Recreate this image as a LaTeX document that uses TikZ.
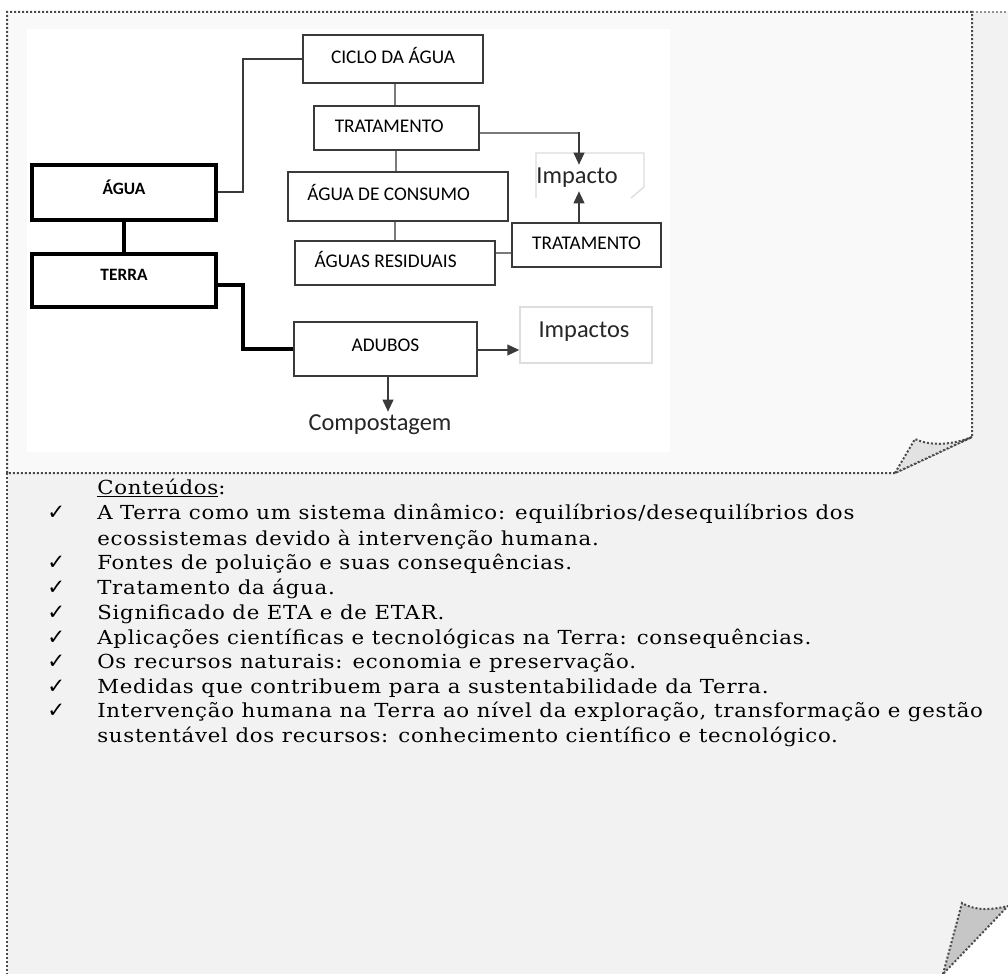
\documentclass[tikz,border=0pt]{standalone}
\usepackage{fontspec}
\setmainfont{DejaVu Serif}
\newfontfamily\boxfont{Carlito}
\newfontfamily\listfont{DejaVu Serif}[FakeStretch=1.1,LetterSpace=4]
\newfontfamily\symfont{DejaVu Sans}
\usetikzlibrary{arrows.meta,calc}
\definecolor{pagegray}{HTML}{F2F2F2}
\definecolor{toppage}{HTML}{F9F9F9}
\definecolor{dotgray}{HTML}{4A4A4A}
\definecolor{boxgray}{HTML}{3A3A3A}
\definecolor{linkgray}{HTML}{7A7A7A}
\definecolor{faint}{HTML}{DDDDDD}
\definecolor{flapgray}{HTML}{E2E2E2}
\definecolor{flapdark}{HTML}{C6C6C6}
\begin{document}
\begin{tikzpicture}[x=0.75pt,y=-0.75pt,
  dotline/.style={draw=dotgray,line width=1.5pt,dash pattern=on 1.5pt off 1.5pt},
  lightdot/.style={draw=dotgray!60,line width=1.5pt,dash pattern=on 1.5pt off 1.5pt},
  box/.style={draw=boxgray,line width=1.6pt,fill=white,inner sep=0pt,
    text height=9.4pt,text depth=2pt,
    font=\boxfont\fontsize{14.5}{16}\selectfont},
  mainbox/.style={box,draw=black,line width=2.6pt,text height=8.4pt,text depth=6.8pt,
    font=\boxfont\bfseries\fontsize{13}{15}\selectfont},
  link/.style={draw=linkgray,line width=1.6pt},
  darklink/.style={draw=boxgray,line width=1.4pt},
  thicklink/.style={draw=black,line width=2.4pt},
  arrowlink/.style={draw=boxgray,line width=1.4pt,-{Triangle[length=9pt,width=8pt]}},
  bigtext/.style={inner sep=0pt,font=\boxfont\fontsize{18.3}{21}\selectfont,text=black!85},
  item/.style={anchor=base west,inner sep=0pt,font=\listfont\fontsize{14.5}{17}\selectfont},
  tick/.style={anchor=base west,inner sep=0pt,font=\symfont\fontsize{16}{18}\selectfont}]
\useasboundingbox (0,0) rectangle (1008,974);
\fill[white] (0,0) rectangle (1008,974);

% lower page sheet with its folded corner
\fill[pagegray] (7,12) -- (1008,12) -- (1008,906) -- (943,974) -- (7,974) -- cycle;
\path[lightdot] (972,12) -- (1008,12);
\path[dotline] (7,473) -- (7,974);
\filldraw[fill=flapdark,dotline] (943,974) -- (962,903) .. controls (975,911) and (992,910) .. (1008,906) -- cycle;

% upper page sheet with its folded corner
\filldraw[fill=toppage,dotline] (895,473) -- (7,473) -- (7,12) -- (972,12) -- (972,437) -- cycle;
\filldraw[fill=flapgray,dotline] (895,473) -- (915,439) .. controls (932,447) and (955,444) .. (972,437) -- cycle;

% diagram canvas
\fill[white] (27,29) rectangle (670,452);

% boxes
\node[mainbox,minimum width=184*0.75pt,minimum height=55*0.75pt,text depth=6pt] (agua) at (124,192.5) {ÁGUA};
\node[mainbox,minimum width=184*0.75pt,minimum height=53*0.75pt,text depth=8.5pt] (terra) at (124,280.5) {TERRA};
\node[box,minimum width=180*0.75pt,minimum height=48*0.75pt] (ciclo) at (393,59) {CICLO DA ÁGUA};
\node[box,minimum width=165*0.75pt,minimum height=44*0.75pt] (trat) at (396.5,128) {TRATAMENTO\hspace*{11pt}};
\node[box,minimum width=220*0.75pt,minimum height=49*0.75pt,text depth=4pt] (consumo) at (398,196.5) {ÁGUA DE CONSUMO\hspace*{14pt}};
\node[box,minimum width=200*0.75pt,minimum height=44*0.75pt] (resid) at (395,263) {ÁGUAS RESIDUAIS\hspace*{14pt}};
\node[box,minimum width=149*0.75pt,minimum height=44*0.75pt] (trat2) at (586.5,245) {TRATAMENTO};
\node[box,minimum width=183*0.75pt,minimum height=54*0.75pt,text depth=5pt] (adubos) at (385.5,349) {ADUBOS};

% free labels
\path[draw=faint,line width=1pt] (536,198) -- (536,153) -- (644,153) -- (644,187) -- (631,198);
\node[bigtext,minimum height=26*0.75pt] (impacto) at (577,178) {Impacto};
\node[draw=faint,line width=1pt,minimum width=132*0.75pt,minimum height=56*0.75pt] (impframe) at (586,335) {};
\node[bigtext] (impactos) at (584,332) {Impactos};
\node[bigtext] (compost) at (380,425) {Compostagem};

% connectors
\draw[darklink] (agua.east |- 0,192) -- (243,192) |- (ciclo.west);
\draw[thicklink] (agua.south) -- (terra.north);
\draw[thicklink] (terra.east |- 0,285) -- (243,285) |- (adubos.west);
\draw[link] (ciclo.south -| 395,0) -- (trat.north -| 395,0);
\draw[link] (trat.south -| 396,0) -- (consumo.north -| 396,0);
\draw[link] (consumo.south -| 395,0) -- (resid.north -| 395,0);
\draw[link] (resid.east |- 0,253) -- (trat2.west |- 0,253);
\draw[link] (trat.east |- 0,133) -- (579,133);
\draw[arrowlink] (579,132.2) -- (impacto.north -| 579,0);
\draw[arrowlink] (trat2.north -| 579,0) -- (impacto.south -| 579,0);
\draw[arrowlink] (adubos.east |- 0,350) -- (impframe.west |- 0,350);
\draw[arrowlink] (adubos.south -| 388,0) -- ($(compost.north -| 388,0)+(0,-3)$);

% list of contents
\node[item] (head) at (97,494) {\underline{Conteúdos}:};
\foreach \y/\t/\c in {
  519/{A Terra como um sistema dinâmico: equilíbrios/desequilíbrios dos}/1,
  545/{ecossistemas devido à intervenção humana.}/0,
  569/{Fontes de poluição e suas consequências.}/1,
  594/{Tratamento da água.}/1,
  619/{Significado de ETA e de ETAR.}/1,
  644/{Aplicações científicas e tecnológicas na Terra: consequências.}/1,
  668/{Os recursos naturais: economia e preservação.}/1,
  693/{Medidas que contribuem para a sustentabilidade da Terra.}/1,
  717/{Intervenção humana na Terra ao nível da exploração, transformação e gestão}/1,
  742/{sustentável dos recursos: conhecimento científico e tecnológico.}/0}{
  \node[item] (line\y) at (97,\y) {\t};
  \ifnum\c=1 \node[tick] (tick\y) at (47,\y) {✓};\fi
}
\end{tikzpicture}
\end{document}
